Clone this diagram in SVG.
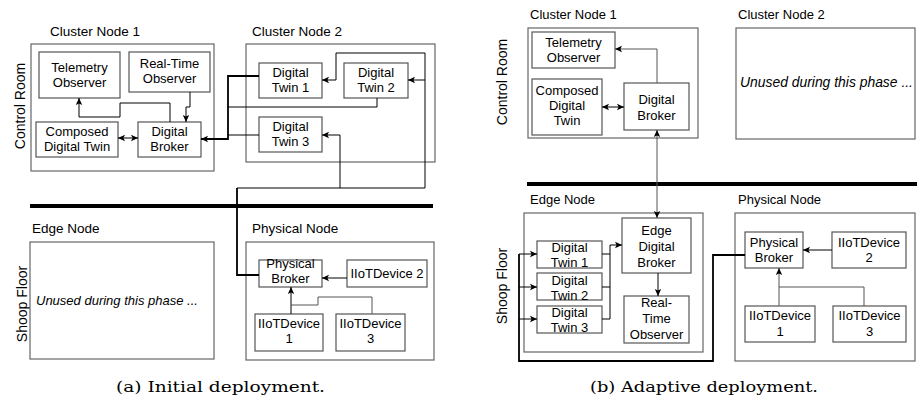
<svg xmlns="http://www.w3.org/2000/svg" width="921" height="410" viewBox="0 0 921 410">
  <style>
    text { font-family: "Liberation Sans", Arial, sans-serif; font-size: 13px; fill: #000; }
    .c { text-anchor: middle; }
    .lbl { font-size: 13.5px; }
    .side { font-size: 14px; text-anchor: middle; }
    .it { font-style: italic; }
    .cap { font-family: "DejaVu Serif", "Liberation Serif", serif; font-size: 15px; }
    .cont { fill: #fff; stroke: #666; stroke-width: 1.2; }
    .box { fill: #fff; stroke: #555; stroke-width: 1.2; }
    .ln { fill: none; stroke: #000; stroke-width: 1; }
    .tk { fill: none; stroke: #000; stroke-width: 1.8; }
    .gr { fill: none; stroke: #555; stroke-width: 1; }
    .bar { stroke: #000; stroke-width: 4; }
    .a { marker-end: url(#arr); }
    .ab { marker-start: url(#arrS); marker-end: url(#arr); }
  </style>
  <defs>
    <marker id="arr" markerUnits="userSpaceOnUse" markerWidth="8" markerHeight="8" refX="7" refY="4" orient="auto">
      <path d="M0,0.8 L7,4 L0,7.2 L1.6,4 Z" fill="#000"/>
    </marker>
    <marker id="arrS" markerUnits="userSpaceOnUse" markerWidth="8" markerHeight="8" refX="0" refY="4" orient="auto">
      <path d="M7,0.8 L0,4 L7,7.2 L5.4,4 Z" fill="#000"/>
    </marker>
  </defs>

  <!-- ===================== (a) Initial deployment ===================== -->
  <g id="a-zones">
    <text class="side" transform="translate(25,106) rotate(-90)">Control Room</text>
    <text class="side" transform="translate(27,304) rotate(-90)">Shoop Floor</text>
    <line class="bar" x1="30" y1="206" x2="433" y2="206"/>
  </g>

  <g id="a-cluster1">
    <text class="lbl" x="50" y="36">Cluster Node 1</text>
    <rect class="cont" x="31" y="44" width="183" height="127"/>
  </g>
  <g id="a-cluster2">
    <text class="lbl" x="252" y="36">Cluster Node 2</text>
    <rect class="cont" x="246" y="44" width="189" height="118"/>
  </g>
  <g id="a-edge">
    <text class="lbl" x="32" y="233">Edge Node</text>
    <rect class="cont" x="30" y="242" width="184" height="117"/>
    <text class="it" x="36" y="305">Unused during this phase ...</text>
  </g>
  <g id="a-physical">
    <text class="lbl" x="252" y="233">Physical Node</text>
    <rect class="cont" x="246" y="242" width="188" height="118"/>
  </g>

  <g id="a-telemetry">
    <rect class="box" x="39" y="52" width="81" height="46"/>
    <text class="c" x="79.5" y="72">Telemetry</text>
    <text class="c" x="79.5" y="87">Observer</text>
  </g>
  <g id="a-realtime">
    <rect class="box" x="129" y="52" width="81" height="40"/>
    <text class="c" x="169.5" y="68">Real-Time</text>
    <text class="c" x="169.5" y="83">Observer</text>
  </g>
  <g id="a-composed">
    <rect class="box" x="36" y="122" width="82" height="35"/>
    <text class="c" x="77" y="135.5">Composed</text>
    <text class="c" x="77" y="150.5">Digital Twin</text>
  </g>
  <g id="a-broker">
    <rect class="box" x="138" y="122" width="63" height="35"/>
    <text class="c" x="169.5" y="135.5">Digital</text>
    <text class="c" x="169.5" y="150.5">Broker</text>
  </g>
  <g id="a-twin1">
    <rect class="box" x="259" y="63" width="63" height="35"/>
    <text class="c" x="290.5" y="77">Digital</text>
    <text class="c" x="290.5" y="92">Twin 1</text>
  </g>
  <g id="a-twin2">
    <rect class="box" x="344" y="63" width="64" height="35"/>
    <text class="c" x="376" y="77">Digital</text>
    <text class="c" x="376" y="92">Twin 2</text>
  </g>
  <g id="a-twin3">
    <rect class="box" x="259" y="117" width="63" height="35"/>
    <text class="c" x="290.5" y="131">Digital</text>
    <text class="c" x="290.5" y="146">Twin 3</text>
  </g>
  <g id="a-pbroker">
    <rect class="box" x="259" y="260" width="63" height="27"/>
    <text class="c" x="290.5" y="268">Physical</text>
    <text class="c" x="290.5" y="283">Broker</text>
  </g>
  <g id="a-dev2">
    <rect class="box" x="347" y="260" width="80" height="27"/>
    <text class="c" x="387" y="278">IIoTDevice 2</text>
  </g>
  <g id="a-dev1">
    <rect class="box" x="255" y="314" width="68" height="37"/>
    <text class="c" x="289" y="328">IIoTDevice</text>
    <text class="c" x="289" y="343">1</text>
  </g>
  <g id="a-dev3">
    <rect class="box" x="336" y="314" width="69" height="37"/>
    <text class="c" x="370.5" y="328">IIoTDevice</text>
    <text class="c" x="370.5" y="343">3</text>
  </g>

  <g id="a-connectors">
    <polyline class="ln a" points="170,122 170,103 120,103 120,117 79,117 79,98"/>
    <polyline class="ln a" points="190,92 190,107 186,107 186,122"/>
    <line class="ln ab" x1="118" y1="138" x2="138" y2="138"/>
    <!-- twins to digital broker -->
    <polyline class="tk a" points="259,76 228,76 228,139 201,139"/>
    <polyline class="ln" points="377,98 377,107 228,107"/>
    <polyline class="ln" points="259,135 228,135"/>
    <!-- physical broker to twins -->
    <polyline class="tk" points="259,275 237,275 237,188"/>
    <polyline class="ln a" points="237,188 425,188 425,53 336,53 336,80 322,80"/>
    <line class="ln a" x1="425" y1="80" x2="408" y2="80"/>
    <polyline class="ln a" points="340,188 340,135 322,135"/>
    <!-- devices to physical broker -->
    <line class="ln a" x1="347" y1="278" x2="322" y2="278"/>
    <line class="ln a" x1="291" y1="314" x2="291" y2="287"/>
    <polyline class="gr" points="372,314 372,297 318,297 318,305 291,305"/>
  </g>

  <text class="cap" x="116" y="392" textLength="209" lengthAdjust="spacingAndGlyphs">(a) Initial deployment.</text>

  <!-- ===================== (b) Adaptive deployment ===================== -->
  <g id="b-zones">
    <text class="side" transform="translate(507,82) rotate(-90)">Control Room</text>
    <text class="side" transform="translate(507,286) rotate(-90)">Shoop Floor</text>
    <line class="bar" x1="527" y1="184" x2="917" y2="184"/>
  </g>

  <g id="b-cluster1">
    <text x="530" y="19">Cluster Node 1</text>
    <rect class="cont" x="528" y="28" width="170" height="110"/>
  </g>
  <g id="b-cluster2">
    <text x="738" y="19">Cluster Node 2</text>
    <rect class="cont" x="736" y="28" width="179" height="111"/>
    <text class="it" x="740" y="87" style="font-size:13.9px">Unused during this phase ...</text>
  </g>
  <g id="b-edge">
    <text x="530" y="204">Edge Node</text>
    <rect class="cont" x="524" y="213" width="179" height="139"/>
  </g>
  <g id="b-physical">
    <text x="738" y="204">Physical Node</text>
    <rect class="cont" x="735" y="213" width="180" height="148"/>
  </g>

  <g id="b-telemetry">
    <rect class="box" x="532" y="32" width="83" height="36"/>
    <text class="c" x="573.5" y="46.5">Telemetry</text>
    <text class="c" x="573.5" y="62">Observer</text>
  </g>
  <g id="b-composed">
    <rect class="box" x="532" y="79" width="70" height="56"/>
    <text class="c" x="567" y="95">Composed</text>
    <text class="c" x="567" y="110">Digital</text>
    <text class="c" x="567" y="125">Twin</text>
  </g>
  <g id="b-broker">
    <rect class="box" x="624" y="83" width="65" height="47"/>
    <text class="c" x="656.5" y="104">Digital</text>
    <text class="c" x="656.5" y="119.5">Broker</text>
  </g>
  <g id="b-edgebroker">
    <rect class="box" x="622" y="218" width="69" height="55"/>
    <text class="c" x="656.5" y="235">Edge</text>
    <text class="c" x="656.5" y="251">Digital</text>
    <text class="c" x="656.5" y="267">Broker</text>
  </g>
  <g id="b-realtime">
    <rect class="box" x="624" y="296" width="65" height="47"/>
    <text class="c" x="656.5" y="307">Real-</text>
    <text class="c" x="656.5" y="323">Time</text>
    <text class="c" x="656.5" y="339">Observer</text>
  </g>
  <g id="b-twin1">
    <rect class="box" x="537" y="241" width="65" height="27"/>
    <text class="c" x="569.5" y="252">Digital</text>
    <text class="c" x="569.5" y="267">Twin 1</text>
  </g>
  <g id="b-twin2">
    <rect class="box" x="537" y="273" width="65" height="27"/>
    <text class="c" x="569.5" y="285">Digital</text>
    <text class="c" x="569.5" y="299.5">Twin 2</text>
  </g>
  <g id="b-twin3">
    <rect class="box" x="537" y="306" width="65" height="27"/>
    <text class="c" x="569.5" y="317">Digital</text>
    <text class="c" x="569.5" y="332">Twin 3</text>
  </g>
  <g id="b-pbroker">
    <rect class="box" x="745" y="232" width="58" height="36"/>
    <text class="c" x="774" y="247">Physical</text>
    <text class="c" x="774" y="262">Broker</text>
  </g>
  <g id="b-dev2">
    <rect class="box" x="832" y="232" width="74" height="36"/>
    <text class="c" x="869" y="247">IIoTDevice</text>
    <text class="c" x="869" y="262">2</text>
  </g>
  <g id="b-dev1">
    <rect class="box" x="745" y="306" width="70" height="36"/>
    <text class="c" x="780" y="320">IIoTDevice</text>
    <text class="c" x="780" y="336">1</text>
  </g>
  <g id="b-dev3">
    <rect class="box" x="833" y="306" width="73" height="36"/>
    <text class="c" x="869.5" y="320">IIoTDevice</text>
    <text class="c" x="869.5" y="336">3</text>
  </g>

  <g id="b-connectors">
    <polyline class="gr a" points="657,83 657,49 615,49"/>
    <line class="ln ab" x1="602" y1="107" x2="624" y2="107"/>
    <line class="gr ab" x1="657" y1="130" x2="657" y2="218"/>
    <line class="ln a" x1="658" y1="273" x2="658" y2="296"/>
    <!-- physical broker to twins -->
    <polyline class="tk" points="745,255 713,255 713,361 519,361 519,254"/>
    <line class="ln a" x1="519" y1="254" x2="537" y2="254"/>
    <line class="ln a" x1="519" y1="287" x2="537" y2="287"/>
    <line class="ln a" x1="519" y1="319" x2="537" y2="319"/>
    <!-- twins to edge broker -->
    <line class="ln" x1="602" y1="254" x2="610" y2="254"/>
    <line class="ln" x1="602" y1="287" x2="610" y2="287"/>
    <polyline class="ln a" points="602,319 610,319 610,245 622,245"/>
    <!-- devices to physical broker -->
    <line class="ln a" x1="832" y1="250" x2="803" y2="250"/>
    <line class="gr a" x1="779" y1="306" x2="779" y2="268"/>
    <polyline class="gr" points="864,306 864,287 779,287"/>
  </g>

  <text class="cap" x="590" y="392" textLength="228" lengthAdjust="spacingAndGlyphs">(b) Adaptive deployment.</text>
</svg>
